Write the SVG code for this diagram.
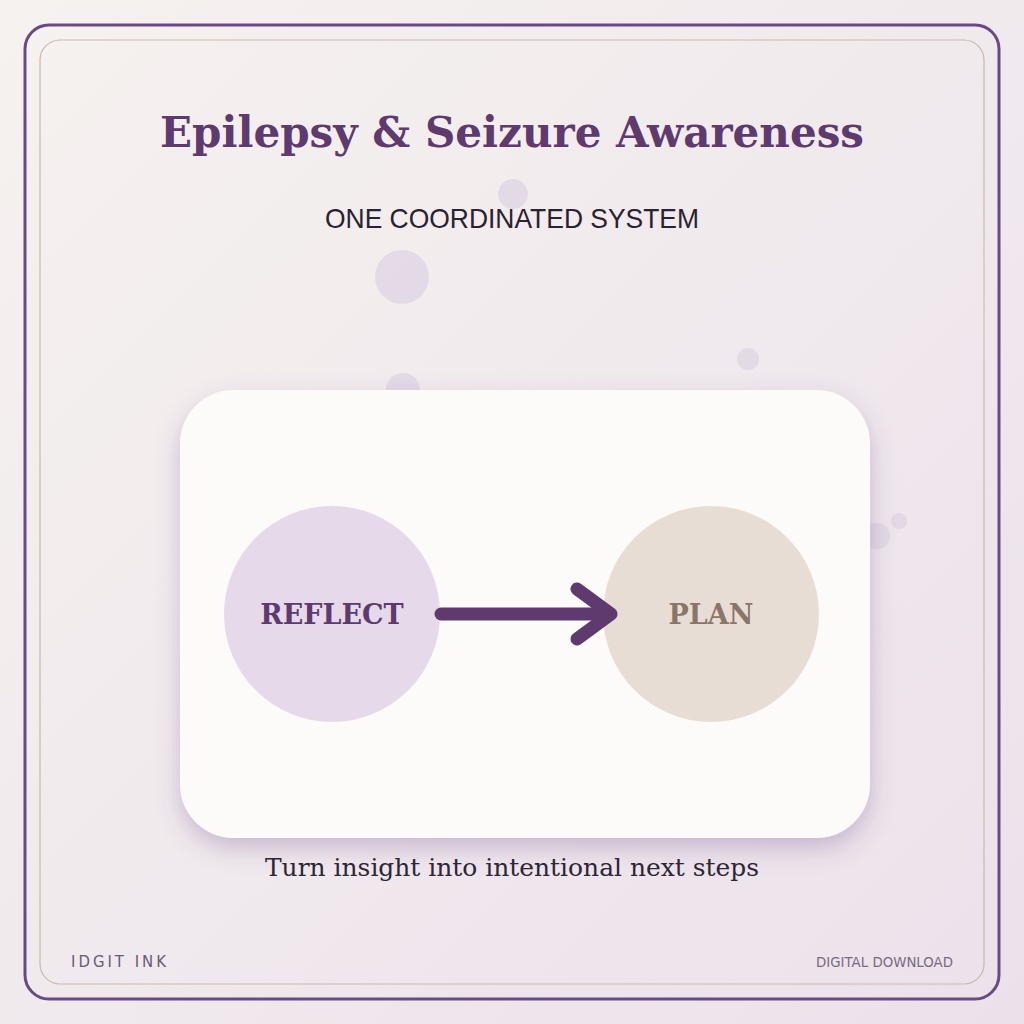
<svg xmlns="http://www.w3.org/2000/svg" width="1024" height="1024" viewBox="0 0 1024 1024">
  <defs>
    <linearGradient id="bg" x1="0" y1="0" x2="1" y2="1">
      <stop offset="0" stop-color="#f6f2ef"/>
      <stop offset="1" stop-color="#ebe1eb"/>
    </linearGradient>
    <filter id="shadow" x="-20%" y="-20%" width="140%" height="150%">
      <feGaussianBlur in="SourceAlpha" stdDeviation="12"/>
      <feOffset dx="0" dy="10" result="b"/>
      <feFlood flood-color="#6a4a86" flood-opacity="0.3"/>
      <feComposite in2="b" operator="in"/>
      <feMerge>
        <feMergeNode/>
        <feMergeNode in="SourceGraphic"/>
      </feMerge>
    </filter>
    <style>
      .bubble { fill: #ddd3e2; opacity: 0.7; }
      .serif { font-family: "DejaVu Serif", "Liberation Serif", serif; }
      .node-label { font-family: "DejaVu Serif", "Liberation Serif", serif; font-weight: bold; font-size: 27px; text-anchor: middle; }
    </style>
  </defs>

  <rect x="0" y="0" width="1024" height="1024" fill="url(#bg)"/>

  <g id="bubbles">
    <circle class="bubble" cx="513" cy="194" r="15"/>
    <circle class="bubble" cx="402" cy="277" r="27"/>
    <circle class="bubble" cx="748" cy="359" r="11"/>
    <circle class="bubble" cx="403" cy="390" r="17"/>
    <circle class="bubble" cx="877" cy="536" r="13"/>
    <circle class="bubble" cx="899" cy="521" r="8"/>
  </g>

  <g id="frame">
    <rect x="25" y="25" width="974" height="974" rx="24" fill="none" stroke="#6a4a86" stroke-width="3"/>
    <rect x="40" y="40" width="944" height="944" rx="20" fill="none" stroke="#c9b9ab" stroke-width="1.2"/>
  </g>

  <g id="title">
    <text class="serif" x="512" y="147" font-size="42" font-weight="bold" fill="#5e3a6e" text-anchor="middle" textLength="704" lengthAdjust="spacingAndGlyphs">Epilepsy &amp; Seizure Awareness</text>
    <text x="512" y="228" font-family="Liberation Sans, Arial, sans-serif" font-size="28" fill="#2a2230" text-anchor="middle" textLength="374" lengthAdjust="spacingAndGlyphs">ONE COORDINATED SYSTEM</text>
  </g>

  <g id="card">
    <rect x="180" y="390" width="690" height="448" rx="54" fill="#fdfbfa" filter="url(#shadow)"/>
  </g>

  <g id="node-reflect">
    <circle cx="332" cy="614" r="108" fill="#e5d9ea"/>
    <text class="node-label" x="332" y="624" fill="#5e3a6e">REFLECT</text>
  </g>

  <g id="node-plan">
    <circle cx="711" cy="614" r="108" fill="#e8ddd4"/>
    <text class="node-label" x="711" y="624" fill="#8a7668">PLAN</text>
  </g>

  <g id="connectors" fill="none" stroke="#5e3a6e" stroke-width="13" stroke-linecap="round" stroke-linejoin="round">
    <line x1="441" y1="614" x2="608" y2="614"/>
    <polyline points="577,589 611,614 577,639"/>
  </g>

  <g id="caption">
    <text class="serif" x="512" y="876" font-size="25" fill="#2e2535" text-anchor="middle" textLength="494" lengthAdjust="spacingAndGlyphs">Turn insight into intentional next steps</text>
  </g>

  <g id="footer">
    <text x="71" y="967" font-family="DejaVu Sans, sans-serif" font-size="15" letter-spacing="3" fill="#6a5a78" textLength="98" lengthAdjust="spacingAndGlyphs">IDGIT INK</text>
    <text x="953" y="967" font-family="DejaVu Sans, sans-serif" font-size="13.5" fill="#7a6a80" text-anchor="end" textLength="137" lengthAdjust="spacingAndGlyphs">DIGITAL DOWNLOAD</text>
  </g>
</svg>
